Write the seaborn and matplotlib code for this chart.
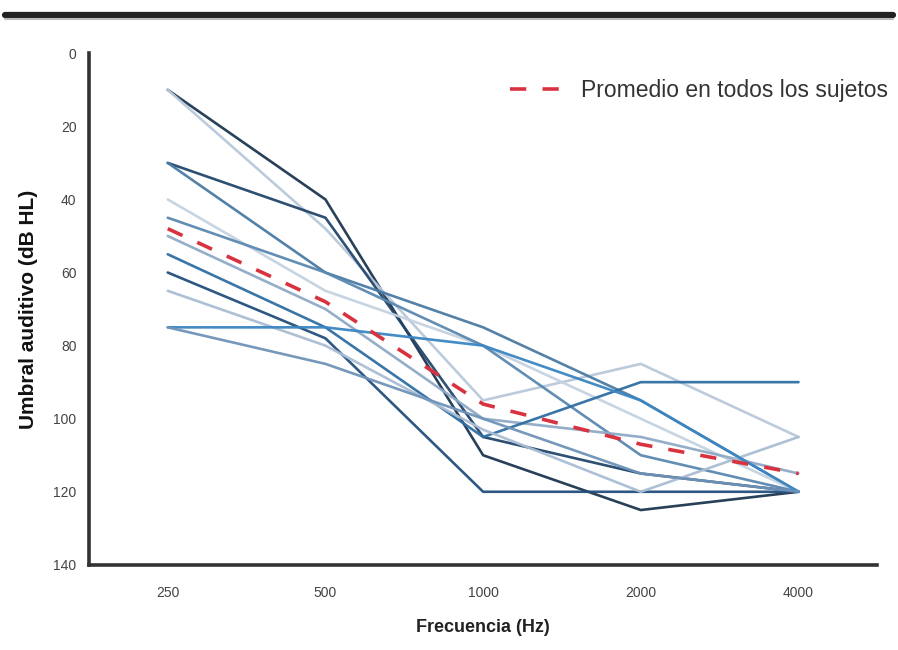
import numpy as np
import pandas as pd
import matplotlib
matplotlib.use("Agg")
import matplotlib.pyplot as plt
from matplotlib.lines import Line2D
import seaborn as sns

# ---- data ----
frequencies = ["250", "500", "1000", "2000", "4000"]
s01 = [10, 40, 110, 125, 120]
s02 = [10, 48, 95, 85, 105]
s03 = [30, 45, 105, 115, 120]
s04 = [30, 60, 75, 95, 120]
s05 = [40, 65, 80, 100, 120]
s06 = [45, 60, 80, 110, 120]
s07 = [50, 70, 100, 105, 115]
s08 = [55, 75, 105, 90, 90]
s09 = [60, 78, 120, 120, 120]
s10 = [65, 80, 103, 120, 105]
s11 = [75, 75, 80, 95, 120]
s12 = [75, 85, 100, 115, 120]
mean_all = [48, 68, 96, 107, 115]
mean_label = "Promedio en todos los sujetos"
xlabel = "Frecuencia (Hz)"
ylabel = "Umbral auditivo (dB HL)"
yticks = [0, 20, 40, 60, 80, 100, 120, 140]

subjects = {"S01": s01, "S02": s02, "S03": s03, "S04": s04, "S05": s05,
            "S06": s06, "S07": s07, "S08": s08, "S09": s09, "S10": s10,
            "S11": s11, "S12": s12}
colors = {"S01": "#1d3650", "S02": "#b9c9db", "S03": "#22466b", "S04": "#4a7aa3",
          "S05": "#c4d2e0", "S06": "#5b88b0", "S07": "#8eaac6", "S08": "#2f6ea3",
          "S09": "#234f7c", "S10": "#a9bdd3", "S11": "#3a86c2", "S12": "#6f93b8"}

rows = []
for name, vals in subjects.items():
    for i, (f, v) in enumerate(zip(frequencies, vals)):
        rows.append({"subject": name, "pos": i, "freq": f, "thr": v})
df = pd.DataFrame(rows)
df_mean = pd.DataFrame({"pos": range(len(frequencies)), "thr": mean_all})

sns.set_style("white")
plt.rcParams["font.family"] = ["Liberation Sans", "DejaVu Sans"]
fig = plt.figure(figsize=(8.98, 6.5), dpi=100)
ax = fig.add_axes([0.099, 0.131, 0.878, 0.787])

sns.lineplot(data=df, x="pos", y="thr", hue="subject", palette=colors,
             linewidth=1.9, alpha=0.95, legend=False, ax=ax, sort=False)
sns.lineplot(data=df_mean, x="pos", y="thr", color="#d9323f", linewidth=2.6,
             ax=ax, label=mean_label, sort=False)
for l in ax.get_lines()[-1:]:
    l.set_dashes([4.5, 4.5])

ax.set_xlim(-0.5, 4.5)
ax.set_ylim(140, 0)
ax.set_yticks(yticks)
ax.set_yticklabels([str(t) for t in yticks], fontsize=10, color="#444444")
ax.set_xticks(range(len(frequencies)))
ax.set_xticklabels(frequencies, fontsize=10, color="#444444")
ax.set_xticks(np.arange(0.5, 5.0, 1.0), minor=True)
ax.tick_params(axis="x", which="major", length=0, pad=15)
ax.tick_params(axis="x", which="minor", direction="in", length=5, width=1.5, color="#333333")
ax.tick_params(axis="y", which="major", direction="in", length=5, width=1.5, color="#333333", pad=9)

for side in ["top", "right"]:
    ax.spines[side].set_visible(False)
for side in ["left", "bottom"]:
    ax.spines[side].set_linewidth(2.6)
    ax.spines[side].set_color("#333333")

ax.set_xlabel(xlabel, fontsize=13, fontweight="bold", color="#222222", labelpad=14)
ax.set_ylabel(ylabel, fontsize=15, fontweight="bold", color="#111111", labelpad=11)

leg = ax.legend(loc="upper right", frameon=False, fontsize=16.5, handlelength=2.2,
                handletextpad=0.9, bbox_to_anchor=(1.04, 0.99), labelcolor="#333333")

fig.add_artist(Line2D([0.006, 0.994], [0.977, 0.977], color="#222222", linewidth=4.5,
                      transform=fig.transFigure))
fig.add_artist(Line2D([0.006, 0.994], [0.971, 0.971], color="#bbbbbb", linewidth=1.5,
                      transform=fig.transFigure))

fig.savefig("out.png", dpi=100, facecolor="white")
